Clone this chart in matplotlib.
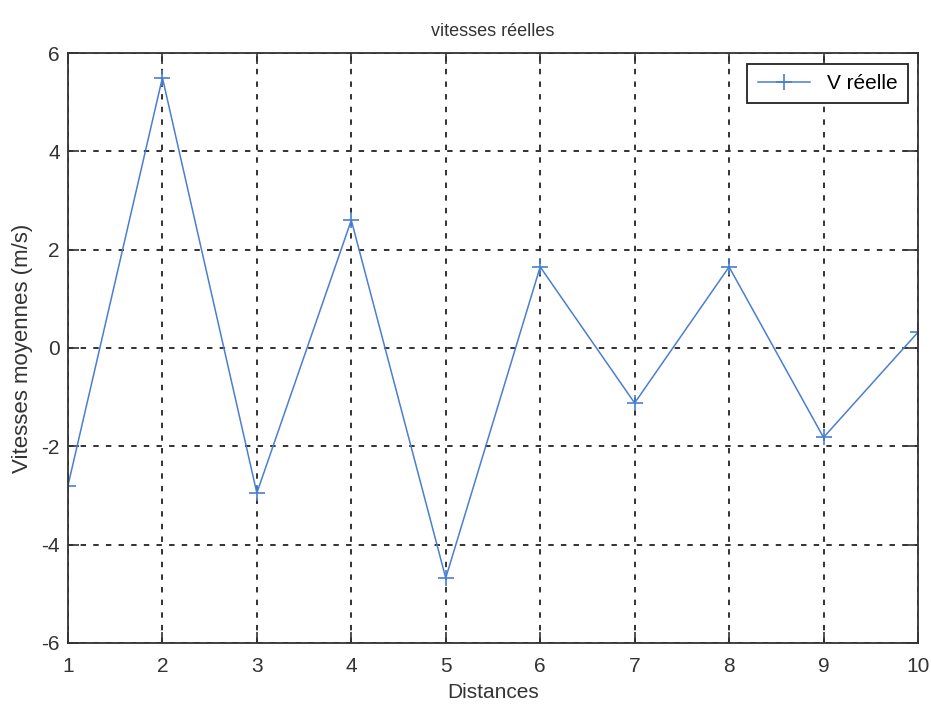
import matplotlib
matplotlib.use("Agg")
import matplotlib.pyplot as plt

# distances (x) and measured mean speeds (m/s)
distances = [1, 2, 3, 4, 5, 6, 7, 8, 9, 10]
v_reelle = [-2.8, 5.5, -2.95, 2.6, -4.68, 1.65, -1.12, 1.65, -1.82, 0.32]

x_ticks = list(range(1, 11))
y_ticks = [-6, -4, -2, 0, 2, 4, 6]

plt.rcParams["font.family"] = ["Liberation Sans", "DejaVu Sans"]
plt.rcParams["axes.unicode_minus"] = False

fig = plt.figure(figsize=(9.31, 7.08), dpi=100)
ax = fig.add_axes([0.073, 0.092, 0.913, 0.833])

ax.plot(distances, v_reelle, color="#4a7fd0", linewidth=1.1, marker="+",
        markersize=12, markeredgewidth=1.2, label="V réelle")

ax.set_xlim(1, 10)
ax.set_ylim(-6, 6)
ax.set_xticks(x_ticks)
ax.set_yticks(y_ticks)
ax.tick_params(direction="in", length=8, width=1.2, labelsize=15, colors="#333333",
               top=True, right=True)
ax.tick_params(axis="x", pad=10)
ax.tick_params(axis="y", pad=6)
for s in ax.spines.values():
    s.set_linewidth(1.3)
    s.set_color("#333333")

ax.grid(True, color="#222222", linestyle=(0, (3, 4)), linewidth=1.3)

ax.set_title("vitesses réelles", fontsize=13, color="#333333", pad=12)
ax.set_xlabel("Distances", fontsize=15, color="#333333", labelpad=5)
ax.set_ylabel("Vitesses moyennes (m/s)", fontsize=16, color="#333333", labelpad=6)

leg = ax.legend(loc="upper right", fontsize=15, fancybox=False, framealpha=1,
                edgecolor="#222222", handlelength=2.5, borderpad=0.5)
leg.get_frame().set_linewidth(1.3)

fig.savefig("out.png", dpi=100)
